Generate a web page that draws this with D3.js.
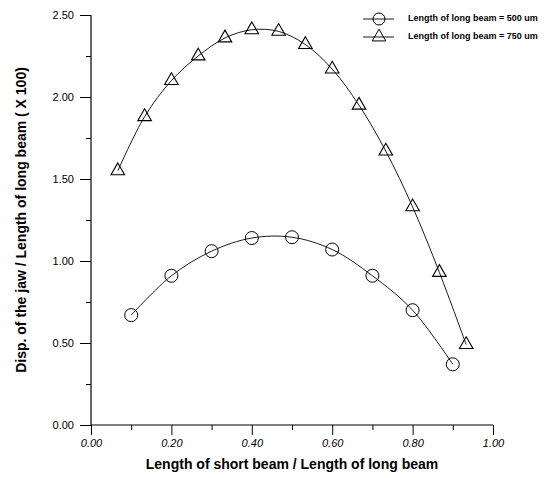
<!DOCTYPE html>
<html>
<head>
<meta charset="utf-8">
<script src="https://cdn.jsdelivr.net/npm/d3@7"></script>
<style>
  body { margin: 0; background: #fff; }
  svg { display: block; font-family: "Liberation Sans", Arial, sans-serif; }
</style>
</head>
<body>
<div id="chart"></div>
<script>
// data
const x_500 = [0.1, 0.2, 0.3, 0.4, 0.5, 0.6, 0.7, 0.8, 0.9];
const y_500 = [0.67, 0.91, 1.06, 1.14, 1.145, 1.07, 0.91, 0.70, 0.37];

const x_750 = [0.0667, 0.1333, 0.2, 0.2667, 0.3333, 0.4, 0.4667, 0.5333,
  0.6, 0.6667, 0.7333, 0.8, 0.8667, 0.9333];
const y_750 = [1.55, 1.88, 2.10, 2.25, 2.36, 2.41, 2.40, 2.32,
  2.17, 1.95, 1.67, 1.33, 0.93, 0.49];

const x_ticks = [0, 0.2, 0.4, 0.6, 0.8, 1.0];
const x_minor = [0.1, 0.3, 0.5, 0.7, 0.9];
const y_ticks = [0, 0.5, 1.0, 1.5, 2.0, 2.5];
const y_minor = [0.25, 0.75, 1.25, 1.75, 2.25];

const legend_labels = ['Length of long beam = 500 um', 'Length of long beam = 750 um'];

const width = 550, height = 478;
const margin = { left: 91, right: 57, top: 15, bottom: 53 };

const svg = d3.select('#chart').append('svg')
  .attr('width', width)
  .attr('height', height);

const x = d3.scaleLinear().domain([0, 1]).range([margin.left, width - margin.right]);
const y = d3.scaleLinear().domain([0, 2.5]).range([height - margin.bottom, margin.top]);

// x axis
const gx = svg.append('g')
  .attr('transform', `translate(0, ${y(0)})`)
  .call(d3.axisBottom(x).tickValues(x_ticks).tickFormat(d3.format('.2f'))
    .tickSize(10).tickSizeOuter(0).tickPadding(4));
gx.select('.domain').remove();
gx.selectAll('line').attr('stroke', '#000');
gx.selectAll('text')
  .style('font-size', '11px')
  .style('font-style', 'italic')
  .attr('fill', '#000');
svg.append('g')
  .attr('transform', `translate(0, ${y(0)})`)
  .call(d3.axisBottom(x).tickValues(x_minor).tickFormat('').tickSize(5).tickSizeOuter(0))
  .select('.domain').remove();

// y axis
const gy = svg.append('g')
  .attr('transform', `translate(${x(0)}, 0)`)
  .call(d3.axisLeft(y).tickValues(y_ticks).tickFormat(d3.format('.2f'))
    .tickSize(11).tickSizeOuter(0).tickPadding(6));
gy.select('.domain').remove();
gy.selectAll('line').attr('stroke', '#000');
gy.selectAll('text')
  .style('font-size', '11px')
  .attr('fill', '#000');
svg.append('g')
  .attr('transform', `translate(${x(0)}, 0)`)
  .call(d3.axisLeft(y).tickValues(y_minor).tickFormat('').tickSize(5).tickSizeOuter(0))
  .select('.domain').remove();

// axis lines
svg.append('line')
  .attr('x1', x(0)).attr('x2', x(1))
  .attr('y1', y(0)).attr('y2', y(0))
  .attr('stroke', '#000').attr('stroke-width', 1.2);
svg.append('line')
  .attr('x1', x(0)).attr('x2', x(0))
  .attr('y1', y(0)).attr('y2', y(2.5))
  .attr('stroke', '#000').attr('stroke-width', 1.2);

// titles
svg.append('text')
  .attr('x', (x(0) + x(1)) / 2)
  .attr('y', 469)
  .attr('text-anchor', 'middle')
  .style('font-size', '14px')
  .style('font-weight', 'bold')
  .text('Length of short beam / Length of long beam');

svg.append('text')
  .attr('transform', `translate(26, ${(y(0) + y(2.5)) / 2}) rotate(-90)`)
  .attr('text-anchor', 'middle')
  .style('font-size', '14px')
  .style('font-weight', 'bold')
  .text('Disp. of the jaw / Length of long beam ( X 100)');

// lines
const line = d3.line()
  .x(d => x(d[0]))
  .y(d => y(d[1]))
  .curve(d3.curveCatmullRom);

const pts_500 = x_500.map((v, i) => [v, y_500[i]]);
const pts_750 = x_750.map((v, i) => [v, y_750[i]]);

svg.append('path')
  .datum(pts_500)
  .attr('d', line)
  .attr('fill', 'none')
  .attr('stroke', '#000')
  .attr('stroke-width', 0.9);

svg.append('path')
  .datum(pts_750)
  .attr('d', line)
  .attr('fill', 'none')
  .attr('stroke', '#000')
  .attr('stroke-width', 0.9);

// markers
const tri = d3.symbol().type(d3.symbolTriangle).size(80);

svg.append('g').selectAll('circle')
  .data(pts_500)
  .join('circle')
  .attr('cx', d => x(d[0]))
  .attr('cy', d => y(d[1]))
  .attr('r', 6.5)
  .attr('fill', 'none')
  .attr('stroke', '#000')
  .attr('stroke-width', 1);

svg.append('g').selectAll('path')
  .data(pts_750)
  .join('path')
  .attr('d', tri)
  .attr('transform', d => `translate(${x(d[0])}, ${y(d[1])})`)
  .attr('fill', 'none')
  .attr('stroke', '#000')
  .attr('stroke-width', 1.1);

// legend
for (let i = 0; i < legend_labels.length; i++) {
  let curr_y = 19 + 18 * i;
  svg.append('line')
    .attr('x1', 363).attr('x2', 394)
    .attr('y1', curr_y).attr('y2', curr_y)
    .attr('stroke', '#000').attr('stroke-width', 0.9);
  if (i === 0) {
    svg.append('circle')
      .attr('cx', 379).attr('cy', curr_y).attr('r', 6)
      .attr('fill', 'none').attr('stroke', '#000');
  } else {
    svg.append('path')
      .attr('d', tri)
      .attr('transform', `translate(379, ${curr_y})`)
      .attr('fill', 'none').attr('stroke', '#000');
  }
  svg.append('text')
    .attr('x', 408)
    .attr('y', curr_y)
    .attr('dominant-baseline', 'middle')
    .style('font-size', '9px')
    .style('font-weight', 'bold')
    .text(legend_labels[i]);
}
</script>
</body>
</html>
